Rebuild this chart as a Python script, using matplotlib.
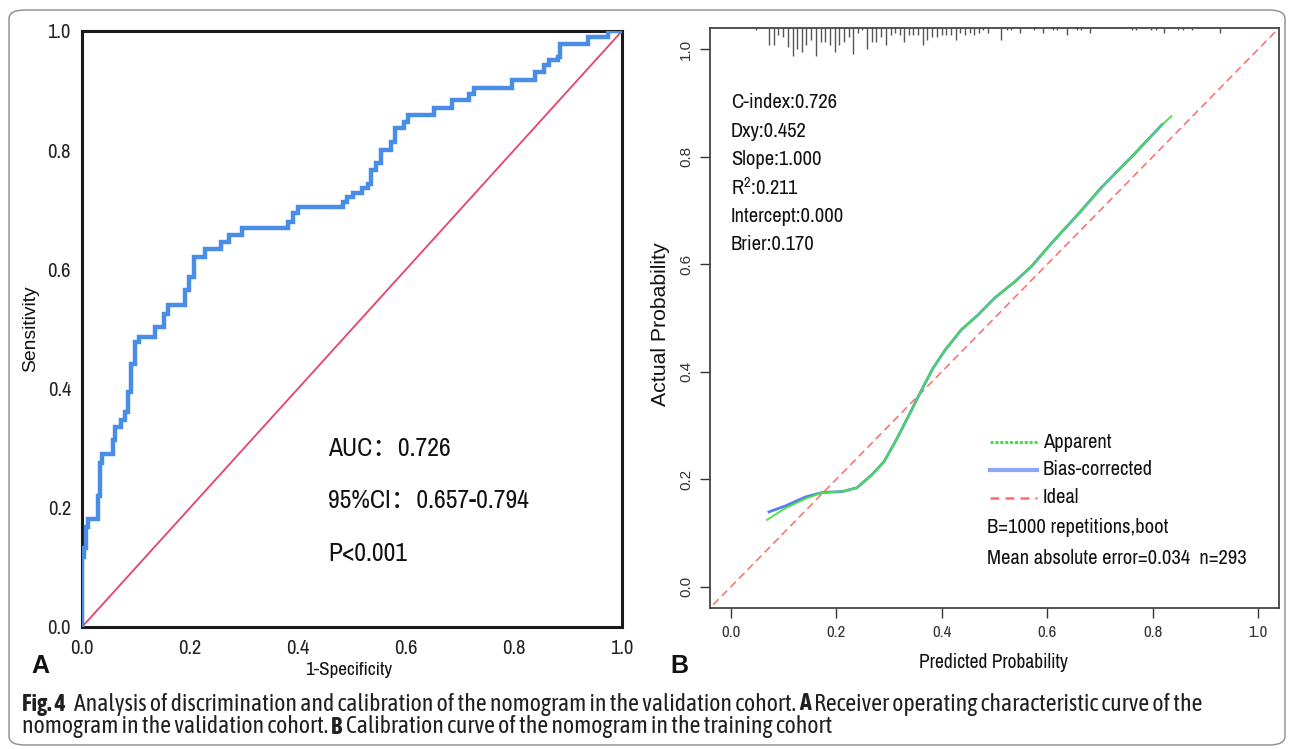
import matplotlib
matplotlib.use("Agg")
import matplotlib.pyplot as plt
from matplotlib.patches import FancyBboxPatch
from matplotlib.lines import Line2D

# ---------------- data ----------------
roc_fpr = [0.0, 0.0, 0.004, 0.008, 0.012, 0.029, 0.033, 0.037, 0.057, 0.061, 0.072, 0.080,
           0.086, 0.091, 0.099, 0.105, 0.135, 0.152, 0.160, 0.191, 0.199, 0.207, 0.228,
           0.257, 0.273, 0.296, 0.382, 0.391, 0.400, 0.483, 0.491, 0.501, 0.518, 0.530,
           0.535, 0.544, 0.553, 0.573, 0.580, 0.596, 0.604, 0.651, 0.686, 0.717, 0.725,
           0.797, 0.838, 0.856, 0.865, 0.881, 0.886, 0.937, 0.974, 1.0]
roc_tpr = [0.0, 0.118, 0.132, 0.168, 0.182, 0.219, 0.275, 0.291, 0.313, 0.336, 0.347, 0.361,
           0.395, 0.442, 0.479, 0.486, 0.503, 0.526, 0.540, 0.565, 0.588, 0.621, 0.635,
           0.646, 0.658, 0.669, 0.680, 0.694, 0.705, 0.713, 0.722, 0.729, 0.736, 0.744,
           0.767, 0.778, 0.800, 0.814, 0.837, 0.848, 0.859, 0.870, 0.884, 0.895, 0.905,
           0.918, 0.932, 0.943, 0.951, 0.957, 0.979, 0.990, 1.0, 1.0]
roc_ticks = [0.0, 0.2, 0.4, 0.6, 0.8, 1.0]
roc_ticklabels = ["0.0", "0.2", "0.4", "0.6", "0.8", "1.0"]
roc_stats = ["AUC：0.726", "95%CI：0.657-0.794", "P<0.001"]

cal_pred = [0.068, 0.103, 0.142, 0.173, 0.212, 0.239, 0.266, 0.290, 0.313, 0.336, 0.360,
            0.383, 0.406, 0.437, 0.469, 0.500, 0.539, 0.570, 0.608, 0.663, 0.702, 0.764,
            0.818, 0.836]
cal_apparent = [0.124, 0.146, 0.164, 0.175, 0.177, 0.184, 0.207, 0.232, 0.272, 0.316, 0.363,
                0.406, 0.440, 0.478, 0.506, 0.537, 0.568, 0.596, 0.639, 0.698, 0.742, 0.804,
                0.860, 0.876]
cal_bias_pred = [0.072, 0.103, 0.142, 0.173, 0.212, 0.239, 0.266, 0.290, 0.313, 0.336, 0.360,
                 0.383, 0.406, 0.437, 0.469, 0.500, 0.539, 0.570, 0.608, 0.663, 0.702, 0.764,
                 0.818]
cal_bias = [0.139, 0.150, 0.167, 0.175, 0.177, 0.184, 0.207, 0.232, 0.272, 0.316, 0.363,
            0.406, 0.440, 0.478, 0.506, 0.537, 0.568, 0.596, 0.639, 0.698, 0.742, 0.804,
            0.860]
ideal = [-0.05, 1.05]

rug_x = [0.047, 0.072, 0.082, 0.090, 0.099, 0.108, 0.117, 0.126, 0.135, 0.143, 0.152, 0.161,
         0.170, 0.179, 0.188, 0.197, 0.205, 0.215, 0.223, 0.231, 0.240, 0.249, 0.258, 0.267,
         0.276, 0.285, 0.294, 0.303, 0.312, 0.320, 0.329, 0.338, 0.346, 0.355, 0.364, 0.372,
         0.382, 0.391, 0.400, 0.408, 0.417, 0.426, 0.435, 0.444, 0.453, 0.462, 0.470, 0.479,
         0.488, 0.513, 0.523, 0.531, 0.548, 0.575, 0.593, 0.611, 0.619, 0.637, 0.656, 0.664,
         0.681, 0.761, 0.769, 0.797, 0.806, 0.822, 0.849, 0.858, 0.874, 0.928]
rug_count = [1, 7, 7, 3, 4, 8, 12, 9, 10, 7, 5, 12, 6, 6, 7, 10, 7, 6, 4, 11, 2, 1, 9, 6,
             6, 4, 7, 3, 2, 3, 6, 3, 3, 3, 7, 5, 4, 4, 3, 3, 3, 5, 2, 3, 2, 3, 2, 1,
             2, 5, 1, 1, 2, 1, 2, 1, 1, 3, 1, 1, 2, 1, 1, 1, 1, 2, 1, 1, 1, 2]
cal_ticks = [0.0, 0.2, 0.4, 0.6, 0.8, 1.0]
cal_ticklabels = ["0.0", "0.2", "0.4", "0.6", "0.8", "1.0"]
cal_stats = ["C-index:0.726", "Dxy:0.452", "Slope:1.000", "R$^{2}$:0.211",
             "Intercept:0.000", "Brier:0.170"]
legend_labels = ["Apparent", "Bias-corrected", "Ideal"]
cal_notes = ["B=1000 repetitions,boot", "Mean absolute error=0.034  n=293"]

caption_line1 = [("Fig. 4", True),
                 ("Analysis of discrimination and calibration of the nomogram in the validation cohort.", False),
                 ("A", True),
                 ("Receiver operating characteristic curve of the", False)]
caption_line2 = [("nomogram in the validation cohort.", False),
                 ("B", True),
                 ("Calibration curve of the nomogram in the training cohort", False)]

# ---------------- style ----------------
NARROW = ["Archivo Narrow", "Noto Sans CJK SC", "DejaVu Sans"]
ARIAL = ["Liberation Sans", "DejaVu Sans"]
CAPF = ["Asap Condensed", "Archivo Narrow", "DejaVu Sans"]
plt.rcParams["font.family"] = NARROW
plt.rcParams["mathtext.fontset"] = "custom"
plt.rcParams["mathtext.rm"] = "Archivo Narrow"
plt.rcParams["mathtext.it"] = "Archivo Narrow"
plt.rcParams["mathtext.bf"] = "Archivo Narrow"

W, H = 1293, 749
fig = plt.figure(figsize=(W / 100, H / 100), dpi=100)
fig.patch.set_facecolor("white")
renderer = fig.canvas.get_renderer()


def text_w(s, size, family, weight="normal"):
    t = fig.text(0, 0, s, fontsize=size, family=family, fontweight=weight)
    w = t.get_window_extent(renderer).width
    t.remove()
    return w


def fit(s, target_px, family, weight="normal"):
    return 10.0 * target_px / text_w(s, 10.0, family, weight)


# outer rounded frame
frame = FancyBboxPatch((9 / W, 4 / H), (1285 - 9) / W, (739 - 4) / H,
                       boxstyle="round,pad=0,rounding_size=0.012",
                       transform=fig.transFigure, facecolor="none",
                       edgecolor="#8a8a8a", linewidth=1.0)
fig.patches.append(frame)

# ---------------- panel A : ROC ----------------
axA = fig.add_axes([82 / W, 1 - 627 / H, 540 / W, 596 / H])
axA.plot([0, 1], [0, 1], color="#E8416A", lw=1.3, zorder=2)
axA.plot(roc_fpr, roc_tpr, drawstyle="steps-post", color="#4A8DE6", lw=3.2,
         solid_joinstyle="miter", zorder=3)
axA.set_xlim(0, 1)
axA.set_ylim(0, 1)
axA.set_xticks(roc_ticks)
axA.set_xticklabels(roc_ticklabels)
axA.set_yticks(roc_ticks)
axA.set_yticklabels(roc_ticklabels)
tickA = fit("0.2", 23, NARROW)
axA.tick_params(length=0, labelsize=tickA, colors="#222222", pad=8)
axA.tick_params(axis="x", pad=9)
for s in axA.spines.values():
    s.set_linewidth(2.2)
    s.set_color("#1a1a1a")
axA.set_xlabel("1-Specificity", fontsize=fit("1-Specificity", 88, NARROW), color="#111111")
axA.xaxis.set_label_coords(0.494, -0.058)
axA.set_ylabel("Sensitivity", fontsize=fit("Sensitivity", 87, ARIAL), family=ARIAL,
               color="#111111")
axA.yaxis.set_label_coords(-0.080, 0.50)
statA = fit(roc_stats[1], 200, NARROW)
for i, s in enumerate(roc_stats):
    axA.text(0.456, 0.300 - i * 0.088, s, fontsize=statA, va="center", ha="left",
             color="#111111", family=NARROW)
fig.text(40 / W, 1 - 666 / H, "A", fontsize=18, fontweight="bold", family=ARIAL,
         ha="center", va="center", color="#111111")

# ---------------- panel B : calibration ----------------
axB = fig.add_axes([710 / W, 1 - 608 / H, 569 / W, 580 / H])
axB.plot(ideal, ideal, color="#FF6A6A", lw=1.1, ls=(0, (5, 3)), zorder=2)
axB.plot(cal_bias_pred, cal_bias, color="#5A7CF2", lw=2.0, zorder=3)
axB.plot(cal_pred, cal_apparent, color="#3FE63F", lw=1.3, zorder=4)
axB.vlines(rug_x, [1.0 - c * 0.00407 for c in rug_count], 1.0,
           transform=axB.get_xaxis_transform(), color="#555555", lw=1.0, zorder=2)
axB.set_xlim(-0.04, 1.04)
axB.set_ylim(-0.04, 1.04)
axB.set_xticks(cal_ticks)
axB.set_xticklabels(cal_ticklabels)
axB.set_yticks(cal_ticks)
axB.set_yticklabels(cal_ticklabels, rotation=90, va="center", family=ARIAL, fontsize=11)
axB.tick_params(direction="out", length=7, width=1.0, colors="#333333", pad=5)
axB.tick_params(axis="x", labelsize=fit("0.0", 19, NARROW))
for s in axB.spines.values():
    s.set_linewidth(1.3)
    s.set_color("#444444")
axB.set_xlabel("Predicted Probability",
               fontsize=fit("Predicted Probability", 150, NARROW), color="#111111")
axB.xaxis.set_label_coords(0.499, -0.078)
axB.set_ylabel("Actual Probability", fontsize=fit("Actual Probability", 165, ARIAL),
               family=ARIAL, color="#111111")
axB.yaxis.set_label_coords(-0.071, 0.49)

statB = fit(cal_notes[1], 260, NARROW)
for i, s in enumerate(cal_stats):
    axB.text(0.0, 0.901 - i * 0.053, s, fontsize=statB, ha="left", va="center",
             color="#111111")

legend_styles = [dict(color="#3FE63F", lw=2.2, ls=(0, (1, 0.6))),
                 dict(color="#8AA6F4", lw=3.0, ls="-"),
                 dict(color="#FF6A6A", lw=1.8, ls=(0, (3.5, 2.5)))]
for i, (lab, st) in enumerate(zip(legend_labels, legend_styles)):
    yy = 0.269 - i * 0.052
    axB.add_line(Line2D([0.491, 0.581], [yy, yy], **st))
    axB.text(0.592, yy, lab, fontsize=statB, ha="left", va="center", color="#111111")
for i, s in enumerate(cal_notes):
    axB.text(0.486, 0.110 - i * 0.058, s, fontsize=statB, ha="left", va="center",
             color="#111111")

fig.text(679 / W, 1 - 666 / H, "B", fontsize=18, fontweight="bold", family=ARIAL,
         ha="center", va="center", color="#111111")

# ---------------- caption ----------------


def runs_width(runs, size):
    sp = text_w("n n", size, CAPF) - text_w("nn", size, CAPF)
    tot = 0.0
    for j, (txt, bold) in enumerate(runs):
        tot += text_w(txt, size, CAPF, "bold" if bold else "normal")
        if j < len(runs) - 1:
            tot += sp * (2.4 if j == 0 and txt.startswith("Fig") else 1.0)
    return tot


def draw_runs(y_px, runs, size, x_px=22):
    sp = (text_w("n n", size, CAPF) - text_w("nn", size, CAPF)) / W
    x = x_px / W
    for j, (txt, bold) in enumerate(runs):
        t = fig.text(x, 1 - y_px / H, txt, fontsize=size,
                     fontweight="bold" if bold else "normal",
                     ha="left", va="center", color="#231F20", family=CAPF)
        bb = t.get_window_extent(renderer)
        gap = sp * (2.4 if (j == 0 and txt.startswith("Fig")) else 1.0)
        x += bb.width / W + gap


cap_size = 10.0 * 1184 / runs_width(caption_line1, 10.0)
draw_runs(704, caption_line1, cap_size)
draw_runs(727, caption_line2, cap_size)

fig.savefig("out.png", dpi=100, facecolor="white")
